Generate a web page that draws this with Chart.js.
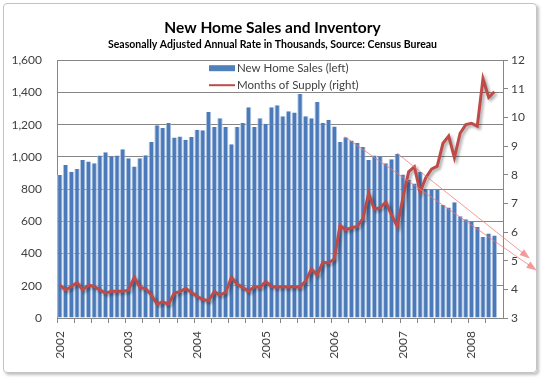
<!DOCTYPE html>
<html>
<head>
<meta charset="utf-8">
<title>New Home Sales and Inventory</title>
<script src="https://cdn.jsdelivr.net/npm/chart.js@4.4.0/dist/chart.umd.min.js"></script>
<style>
  html, body { margin: 0; padding: 0; background: #fff; }
  #wrap { position: relative; width: 545px; height: 379px; }
  #frame {
    position: absolute; left: 3px; top: 3px; width: 532px; height: 368px;
    border: 1px solid #c4c4c4; border-radius: 4px;
    box-shadow: 2px 2px 3px rgba(0, 0, 0, 0.25);
  }
  #chart { position: absolute; left: 0; top: 0; }
</style>
</head>
<body>
<div id="wrap">
  <div id="frame"></div>
  <canvas id="chart" width="545" height="379"></canvas>
</div>
<script>
// months Jan 2002 .. Jun 2008 (last month has no data yet)
const years = ['2002', '2003', '2004', '2005', '2006', '2007', '2008'];
const monthNames = ['Jan', 'Feb', 'Mar', 'Apr', 'May', 'Jun', 'Jul', 'Aug', 'Sep', 'Oct', 'Nov', 'Dec'];
const categories = [];
years.forEach(y => monthNames.forEach(m => {
    if (!(y === '2008' && monthNames.indexOf(m) > 5)) categories.push(m + ' ' + y);
}));

// New Home Sales, SAAR, thousands (left axis)
const newHomeSales = [
    887, 950, 908, 925, 981, 971, 960, 1008, 1029, 1002, 1008, 1048,
    992, 940, 992, 1010, 1092, 1196, 1179, 1210, 1121, 1127, 1106, 1123,
    1169, 1165, 1279, 1185, 1240, 1185, 1079, 1185, 1210, 1308, 1185, 1240,
    1206, 1308, 1321, 1252, 1283, 1275, 1390, 1252, 1240, 1340, 1212, 1231,
    1188, 1093, 1122, 1101, 1087, 1062, 981, 1008, 1003, 960, 985, 1019,
    890, 856, 835, 908, 800, 796, 794, 702, 686, 719, 632, 613,
    596, 565, 502, 525, 512
];

// Months of Supply (right axis)
const monthsOfSupply = [
    4.15, 3.98, 4.10, 4.24, 3.98, 4.15, 4.10, 3.98, 3.87, 3.93, 3.93, 3.93,
    3.97, 4.42, 4.07, 4.03, 3.80, 3.48, 3.56, 3.48, 3.87, 3.92, 4.03, 3.90,
    3.75, 3.65, 3.60, 3.92, 3.80, 3.90, 4.42, 4.18, 4.07, 3.92, 4.10, 4.07,
    4.27, 4.10, 4.07, 4.10, 4.07, 4.10, 4.07, 4.30, 4.71, 4.50, 4.95, 4.92,
    5.06, 6.23, 6.08, 6.15, 6.20, 6.47, 7.35, 6.80, 6.85, 7.05, 6.60, 6.20,
    7.20, 8.10, 8.28, 7.40, 7.90, 8.20, 8.30, 9.10, 9.35, 8.60, 9.45, 9.75,
    9.80, 9.70, 11.35, 10.70, 10.90
];

// hand-drawn trend arrows, given as [category index, sales value]
const trendArrows = [
    { from: [49.8, 1125], to: [83.4, 295] },
    { from: [59, 1022], to: [82.2, 369] }
];

const gridGrey = '#868686';
const textGrey = '#404040';
const font = 'Lato';

const shadowPlugin = {
    id: 'lineShadow',
    beforeDatasetDraw(chart, args) {
        const ctx = chart.ctx;
        ctx.save();
        if (args.index === 1) {
            ctx.shadowColor = 'rgba(0,0,0,0.35)';
            ctx.shadowBlur = 3;
            ctx.shadowOffsetX = 2;
            ctx.shadowOffsetY = 2;
        }
    },
    afterDatasetDraw(chart) {
        chart.ctx.restore();
    }
};

const arrowPlugin = {
    id: 'trendArrows',
    afterDatasetsDraw(chart) {
        const ctx = chart.ctx;
        const x = chart.scales.x, y = chart.scales.y;
        ctx.save();
        ctx.strokeStyle = 'rgba(240,120,120,0.75)';
        ctx.fillStyle = 'rgba(240,120,120,0.75)';
        ctx.lineWidth = 1;
        trendArrows.forEach(a => {
            const x1 = x.getPixelForValue(a.from[0]), y1 = y.getPixelForValue(a.from[1]);
            const x2 = x.getPixelForValue(a.to[0]), y2 = y.getPixelForValue(a.to[1]);
            const ang = Math.atan2(y2 - y1, x2 - x1);
            ctx.beginPath();
            ctx.moveTo(x1, y1);
            ctx.lineTo(x2 - 8 * Math.cos(ang), y2 - 8 * Math.sin(ang));
            ctx.stroke();
            ctx.beginPath();
            ctx.moveTo(x2, y2);
            ctx.lineTo(x2 - 11 * Math.cos(ang - 0.35), y2 - 11 * Math.sin(ang - 0.35));
            ctx.lineTo(x2 - 11 * Math.cos(ang + 0.35), y2 - 11 * Math.sin(ang + 0.35));
            ctx.closePath();
            ctx.fill();
        });
        ctx.restore();
    }
};

// legend sits inside the plot, two stacked rows
const insideLegend = {
    id: 'insideLegend',
    afterDraw(chart) {
        const ctx = chart.ctx;
        const left = chart.chartArea.left + 152;
        const top = chart.chartArea.top + 8;
        ctx.save();
        ctx.font = '11.5px ' + font;
        ctx.textBaseline = 'middle';
        ctx.fillStyle = textGrey;
        chart.data.datasets.forEach((ds, i) => {
            const yy = top + i * 17;
            if (ds.type === 'line') {
                ctx.strokeStyle = ds.borderColor;
                ctx.lineWidth = 2;
                ctx.beginPath();
                ctx.moveTo(left, yy);
                ctx.lineTo(left + 26, yy);
                ctx.stroke();
            } else {
                ctx.fillStyle = '#4f81bd';
                ctx.fillRect(left, yy - 3, 26, 6);
            }
            ctx.fillStyle = textGrey;
            ctx.fillText(ds.label, left + 28, yy);
        });
        ctx.restore();
    }
};

new Chart(document.getElementById('chart'), {
    type: 'bar',
    data: {
        labels: categories,
        datasets: [{
            type: 'bar',
            label: 'New Home Sales (left)',
            data: newHomeSales,
            yAxisID: 'y',
            backgroundColor: '#4a7aba',
            borderColor: '#b3c6e2',
            borderWidth: { left: 1, right: 1, top: 0, bottom: 0 },
            borderSkipped: false,
            barPercentage: 0.95,
            categoryPercentage: 1,
            order: 1
        }, {
            type: 'line',
            label: 'Months of Supply (right)',
            data: monthsOfSupply,
            yAxisID: 'y1',
            borderColor: '#be4b48',
            borderWidth: 3,
            pointRadius: 0,
            tension: 0,
            order: 0
        }]
    },
    options: {
        responsive: false,
        animation: false,
        layout: { padding: 0 },
        plugins: {
            legend: { display: false },
            tooltip: { enabled: false },
            title: {
                display: true,
                text: 'New Home Sales and Inventory',
                color: '#000',
                font: { family: font, size: 15.5, weight: 'bold' },
                padding: { top: 19, bottom: 0 }
            },
            subtitle: {
                display: true,
                text: 'Seasonally Adjusted Annual Rate in Thousands, Source: Census Bureau',
                color: '#000',
                font: { family: font, size: 10.5, weight: 'bold' },
                padding: { top: 1, bottom: 9 }
            }
        },
        scales: {
            x: {
                offset: true,
                grid: {
                    offset: true,
                    drawOnChartArea: false,
                    drawTicks: true,
                    tickLength: 5,
                    color: c => (c.index % 3 === 0 ? gridGrey : 'rgba(0,0,0,0)')
                },
                border: { color: gridGrey },
                ticks: {
                    autoSkip: false,
                    minRotation: 90,
                    maxRotation: 90,
                    padding: 8,
                    color: textGrey,
                    font: { family: font, size: 12 },
                    callback: (v, i) => (i % 12 === 0 ? years[i / 12] : '')
                },
                afterFit: s => { s.height = 61; }
            },
            y: {
                position: 'left',
                min: 0,
                max: 1600,
                ticks: { stepSize: 200, padding: 15, color: textGrey, font: { family: font, size: 12 } },
                grid: { color: gridGrey, drawTicks: false },
                border: { color: gridGrey },
                afterFit: s => { s.width = 57; }
            },
            y1: {
                position: 'right',
                min: 3,
                max: 12,
                ticks: { stepSize: 1, padding: 3, color: textGrey, font: { family: font, size: 12 } },
                grid: { drawOnChartArea: false, drawTicks: true, tickLength: 5, color: gridGrey },
                border: { color: gridGrey },
                afterFit: s => { s.width = 42; }
            }
        }
    },
    plugins: [shadowPlugin, arrowPlugin, insideLegend]
});
</script>
</body>
</html>
